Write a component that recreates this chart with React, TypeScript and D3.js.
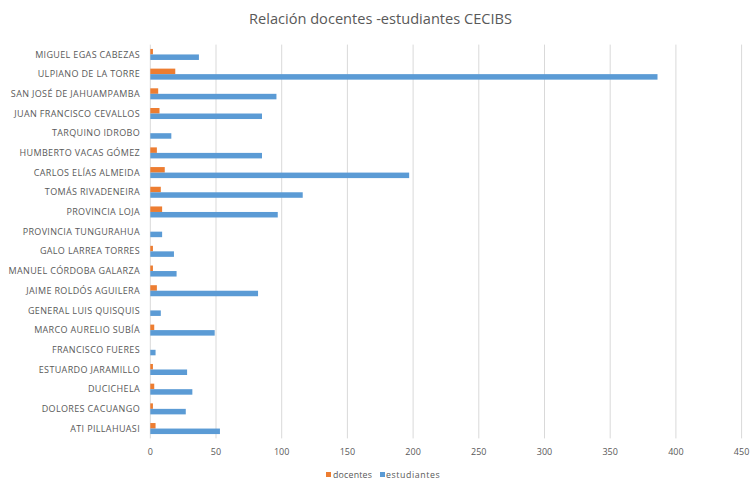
import React from "react";
import * as d3 from "d3";

const categories = [
  "MIGUEL EGAS CABEZAS",
  "ULPIANO DE LA TORRE",
  "SAN JOSÉ DE JAHUAMPAMBA",
  "JUAN FRANCISCO CEVALLOS",
  "TARQUINO IDROBO",
  "HUMBERTO VACAS GÓMEZ",
  "CARLOS ELÍAS ALMEIDA",
  "TOMÁS RIVADENEIRA",
  "PROVINCIA LOJA",
  "PROVINCIA TUNGURAHUA",
  "GALO LARREA TORRES",
  "MANUEL CÓRDOBA GALARZA",
  "JAIME ROLDÓS AGUILERA",
  "GENERAL LUIS QUISQUIS",
  "MARCO AURELIO SUBÍA",
  "FRANCISCO FUERES",
  "ESTUARDO JARAMILLO",
  "DUCICHELA",
  "DOLORES CACUANGO",
  "ATI PILLAHUASI",
];

const docentes = [2, 19, 6, 7, 0, 5, 11, 8, 9, 0, 2, 2, 5, 0, 3, 0, 2, 3, 2, 4];
const estudiantes = [37, 386, 96, 85, 16, 85, 197, 116, 97, 9, 18, 20, 82, 8, 49, 4, 28, 32, 27, 53];

const seriesNames = ["docentes", "estudiantes"];
const seriesColors = ["#ED7D31", "#5B9BD5"];
const xTicks = [0, 50, 100, 150, 200, 250, 300, 350, 400, 450];

const W = 751;
const H = 483;
const left = 150.3;
const right = 741.6;
const top = 44.6;
const bottom = 438.4;

export default function App() {
  const x = d3.scaleLinear().domain([0, 450]).range([left, right]);
  const y = d3
    .scaleBand<string>()
    .domain(categories)
    .range([top, bottom])
    .paddingInner(0.44)
    .paddingOuter(0.22);
  const ys = d3.scaleBand<string>().domain(seriesNames).range([0, y.bandwidth()]);
  const series = [docentes, estudiantes];
  const font = "'Open Sans', 'Liberation Sans', sans-serif";

  return (
    <svg
      width={W}
      height={H}
      style={{ position: "absolute", left: 0, top: 0, background: "#fff" }}
      fontFamily={font}
    >
      <rect x={0} y={0} width={W} height={H} fill="#fff" />
      <text x={380.5} y={24} textAnchor="middle" fontSize={14.6} fill="#595959">
        Relación docentes -estudiantes CECIBS
      </text>
      {xTicks.map((t) => (
        <line
          key={"g" + t}
          x1={x(t)}
          x2={x(t)}
          y1={top}
          y2={bottom}
          stroke="#d9d9d9"
          strokeWidth={1}
        />
      ))}
      {series.map((vals, si) =>
        categories.map((c, i) => (
          <rect
            key={si + "-" + c}
            x={x(0)}
            y={(y(c) as number) + (ys(seriesNames[si]) as number)}
            width={x(vals[i]) - x(0)}
            height={ys.bandwidth()}
            fill={seriesColors[si]}
          />
        ))
      )}
      {categories.map((c) => (
        <text
          key={"l" + c}
          x={140}
          y={(y(c) as number) + y.bandwidth() / 2}
          dy="0.35em"
          textAnchor="end"
          fontSize={9}
          letterSpacing={0.35}
          fill="#595959"
        >
          {c}
        </text>
      ))}
      {xTicks.map((t) => (
        <text
          key={"t" + t}
          x={x(t)}
          y={455}
          textAnchor="middle"
          fontSize={9}
          fill="#595959"
        >
          {t}
        </text>
      ))}
      <rect x={326} y={472} width={5} height={5} fill={seriesColors[0]} />
      <text x={333} y={477.5} fontSize={8.8} letterSpacing={0.2} fill="#595959">
        docentes
      </text>
      <rect x={380} y={472} width={5} height={5} fill={seriesColors[1]} />
      <text x={386} y={477.5} fontSize={8.8} letterSpacing={0.6} fill="#595959">
        estudiantes
      </text>
    </svg>
  );
}
